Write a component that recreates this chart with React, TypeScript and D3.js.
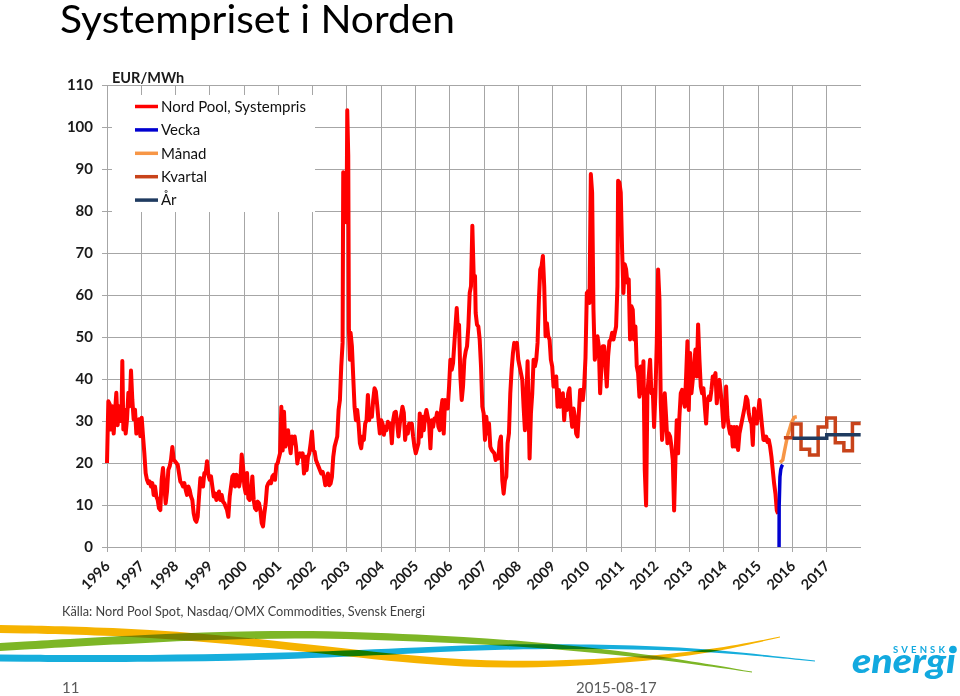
import React, { useEffect } from 'react';
import * as d3 from 'd3';

type Pt = [number, number];

// Nord Pool system price (EUR/MWh), [decimal year, value]
const spot1996_2000: Pt[] = [
  [1996.0, 20], [1996.039, 34.7], [1996.078, 34], [1996.117, 28], [1996.156, 33.5], [1996.195, 27], [1996.233, 32], [1996.272, 36.7], [1996.311, 29], [1996.35, 33.5], [1996.389, 30], [1996.428, 34], [1996.447, 44.3], [1996.477, 28], [1996.516, 32.7], [1996.545, 27], [1996.584, 30.4], [1996.623, 36.7], [1996.661, 33.5], [1996.7, 42], [1996.739, 35], [1996.778, 30.4], [1996.817, 32.7], [1996.856, 27], [1996.895, 28.8], [1996.934, 30.4], [1996.973, 26.4],
  [1997.012, 30.8], [1997.051, 26.4], [1997.089, 22.4], [1997.128, 17.6], [1997.167, 16], [1997.206, 15.2], [1997.245, 15.6], [1997.284, 14.4], [1997.323, 15.2], [1997.362, 12.4], [1997.401, 14.4], [1997.44, 12], [1997.479, 11.2], [1997.517, 9.2], [1997.556, 8.8], [1997.595, 16], [1997.634, 18.8], [1997.673, 14.4], [1997.712, 10.4], [1997.751, 13.2], [1997.79, 18.4], [1997.829, 19.2], [1997.868, 20.8], [1997.907, 23.8], [1997.946, 20.8], [1997.984, 20.4],
  [1998.023, 20], [1998.062, 19.6], [1998.101, 17.6], [1998.14, 15.6], [1998.179, 15.2], [1998.218, 14.4], [1998.257, 15.2], [1998.296, 13.6], [1998.335, 12.4], [1998.374, 14.4], [1998.412, 13.6], [1998.451, 12], [1998.49, 11.2], [1998.529, 8], [1998.568, 6.5], [1998.607, 6], [1998.646, 7.2], [1998.685, 12], [1998.724, 16.4], [1998.763, 16], [1998.802, 14.4], [1998.84, 17.6], [1998.879, 17.6], [1998.918, 20.4], [1998.957, 17.2], [1998.996, 16],
  [1999.035, 16.8], [1999.074, 14.4], [1999.113, 12], [1999.152, 12.8], [1999.191, 11.2], [1999.23, 12], [1999.268, 13.2], [1999.307, 11.2], [1999.346, 12.4], [1999.385, 10.8], [1999.424, 10.4], [1999.463, 9.6], [1999.502, 8.8], [1999.541, 7.2], [1999.58, 12], [1999.619, 14.4], [1999.658, 16.8], [1999.696, 17.2], [1999.735, 14.4], [1999.774, 17.2], [1999.813, 16.8], [1999.852, 14.4], [1999.891, 16], [1999.93, 22], [1999.969, 19.2],
  [2000.008, 14.4], [2000.047, 12.8], [2000.086, 17.6], [2000.124, 11.6], [2000.163, 11.2], [2000.202, 12.8], [2000.241, 16.8], [2000.28, 11.2], [2000.319, 9.2], [2000.358, 8.8], [2000.397, 10.8], [2000.436, 10.4], [2000.475, 8.8], [2000.514, 5.7], [2000.553, 4.9], [2000.591, 8], [2000.63, 10.4], [2000.669, 14.4], [2000.708, 15.2], [2000.747, 15.6], [2000.786, 15.2], [2000.825, 16.8], [2000.864, 17.2], [2000.903, 16], [2000.942, 19.6], [2000.981, 20],
];

const spot2001_2005: Pt[] = [
  [2001.0, 20.7], [2001.049, 22.3], [2001.087, 33.4], [2001.126, 23], [2001.165, 32.2], [2001.204, 23.9], [2001.243, 25.5], [2001.282, 27.8], [2001.32, 24.7], [2001.359, 22.3], [2001.398, 26.3], [2001.437, 24.7], [2001.476, 26.3], [2001.515, 23.9], [2001.553, 19.9], [2001.592, 21.9], [2001.631, 22.3], [2001.67, 21.5], [2001.709, 22.3], [2001.748, 17.5], [2001.786, 21.5], [2001.825, 18.3], [2001.864, 21.5], [2001.903, 22.3], [2001.942, 24.7], [2001.981, 27.5],
  [2002.019, 23], [2002.058, 22.7], [2002.097, 20.7], [2002.136, 19.9], [2002.175, 19.1], [2002.214, 18.3], [2002.252, 17.5], [2002.291, 17.9], [2002.33, 16.7], [2002.369, 14.7], [2002.408, 15.1], [2002.447, 17.5], [2002.485, 14.7], [2002.524, 15.1], [2002.563, 16.7], [2002.602, 21.5], [2002.641, 23.9], [2002.68, 25.1], [2002.718, 26.3], [2002.757, 32.6], [2002.796, 35], [2002.835, 43], [2002.874, 48.6], [2002.893, 89.2], [2002.951, 88.4], [2002.99, 77.3],
  [2003.01, 104], [2003.039, 93.2], [2003.058, 51.8], [2003.087, 44.6], [2003.107, 51], [2003.146, 47.8], [2003.184, 40.6], [2003.223, 33.4], [2003.262, 30.2], [2003.301, 32.6], [2003.34, 29.4], [2003.379, 24.7], [2003.417, 23.5], [2003.456, 26.3], [2003.495, 25.5], [2003.534, 29.4], [2003.573, 30.2], [2003.612, 36.2], [2003.65, 30.2], [2003.689, 32.6], [2003.728, 31], [2003.767, 35], [2003.806, 37.8], [2003.845, 37], [2003.883, 33.8], [2003.922, 30.2], [2003.961, 27],
  [2004.0, 30.2], [2004.039, 29.4], [2004.078, 26.7], [2004.117, 28.6], [2004.155, 27.8], [2004.194, 29.8], [2004.233, 28.6], [2004.272, 29.4], [2004.311, 24.7], [2004.35, 30.2], [2004.388, 32], [2004.427, 32.2], [2004.466, 29.4], [2004.505, 26.3], [2004.544, 29.4], [2004.583, 31.4], [2004.621, 33.4], [2004.66, 32], [2004.699, 25.5], [2004.738, 28.6], [2004.777, 27], [2004.816, 29.4], [2004.854, 28.6], [2004.893, 29.4], [2004.932, 26.3], [2004.971, 23.9],
  [2005.01, 22.3], [2005.049, 23.5], [2005.087, 24.7], [2005.126, 31.8], [2005.165, 26.3], [2005.204, 31], [2005.243, 27.8], [2005.282, 31], [2005.32, 32.6], [2005.359, 31], [2005.398, 29.4], [2005.437, 23.5], [2005.476, 30.2], [2005.515, 28.6], [2005.553, 30.6], [2005.592, 30.2], [2005.631, 32], [2005.67, 28.6], [2005.709, 27.8], [2005.748, 32.6], [2005.786, 35], [2005.825, 27], [2005.864, 35], [2005.903, 33.4], [2005.942, 33], [2005.981, 38.2],
];

const spot2006_2010: Pt[] = [
  [2006.019, 44.6], [2006.058, 42.2], [2006.097, 43.8], [2006.136, 48.6], [2006.175, 53.3], [2006.204, 56.9], [2006.233, 52.5], [2006.272, 52.9], [2006.311, 40.6], [2006.35, 35], [2006.388, 38.2], [2006.427, 44.6], [2006.466, 46.6], [2006.505, 47.8], [2006.544, 52.5], [2006.583, 60.5], [2006.621, 62.1], [2006.66, 76.5], [2006.699, 64.5], [2006.738, 64.5], [2006.757, 55.7], [2006.796, 52.9], [2006.835, 52.5], [2006.874, 49.4], [2006.913, 43], [2006.951, 33.4], [2006.99, 31.8],
  [2007.029, 25.5], [2007.068, 31], [2007.107, 27], [2007.146, 29.4], [2007.184, 23.9], [2007.223, 23.1], [2007.262, 22.7], [2007.301, 22.3], [2007.34, 20.7], [2007.379, 21.5], [2007.417, 21.1], [2007.456, 25], [2007.495, 26.3], [2007.534, 15.9], [2007.573, 12.7], [2007.612, 15.9], [2007.65, 16.7], [2007.689, 24.7], [2007.728, 27], [2007.767, 36.6], [2007.806, 42.2], [2007.845, 46.2], [2007.883, 48.6], [2007.922, 47.8], [2007.961, 48.6],
  [2008.0, 44.6], [2008.039, 43], [2008.078, 41.4], [2008.117, 39.8], [2008.155, 33.4], [2008.194, 27.8], [2008.233, 35], [2008.272, 44.2], [2008.311, 28.6], [2008.33, 21.1], [2008.369, 31.8], [2008.408, 36.6], [2008.447, 44.6], [2008.485, 43], [2008.524, 44.6], [2008.563, 48.6], [2008.602, 58.9], [2008.641, 66.1], [2008.68, 66.9], [2008.718, 69.3], [2008.757, 62.1], [2008.796, 50.2], [2008.835, 53.3], [2008.874, 50.2], [2008.913, 49.4], [2008.951, 44.6], [2008.99, 43],
  [2009.029, 38.2], [2009.068, 39.8], [2009.107, 40.6], [2009.146, 33.4], [2009.184, 37.4], [2009.223, 33.4], [2009.262, 35], [2009.301, 36.6], [2009.34, 30.2], [2009.379, 35], [2009.417, 32.6], [2009.456, 36.6], [2009.495, 37.8], [2009.534, 31.8], [2009.573, 28.6], [2009.612, 33], [2009.65, 31], [2009.689, 27], [2009.728, 26.3], [2009.767, 31.8], [2009.806, 37.4], [2009.845, 37.4], [2009.883, 35], [2009.922, 38.2], [2009.961, 45],
  [2010.0, 60.5], [2010.039, 60.9], [2010.078, 58.1], [2010.117, 88.8], [2010.155, 84.4], [2010.194, 56.5], [2010.233, 44.6], [2010.272, 47], [2010.311, 50.2], [2010.35, 47.8], [2010.388, 36.6], [2010.427, 43], [2010.466, 47.8], [2010.505, 47.8], [2010.544, 43], [2010.583, 38.2], [2010.621, 45.4], [2010.66, 49], [2010.699, 49.4], [2010.738, 51], [2010.777, 49.4], [2010.816, 51], [2010.854, 52.5], [2010.893, 62.1], [2010.913, 87.2], [2010.951, 86.8], [2010.99, 84.4],
];

const spot2011_2015: Pt[] = [
  [2011.029, 70.9], [2011.068, 60.5], [2011.107, 67.3], [2011.146, 66.1], [2011.184, 62.9], [2011.223, 63.7], [2011.262, 49.4], [2011.302, 57.3], [2011.34, 56.5], [2011.379, 49.4], [2011.418, 52.5], [2011.457, 43], [2011.496, 41.4], [2011.535, 35.8], [2011.574, 43], [2011.613, 36.6], [2011.652, 44.2], [2011.691, 18.3], [2011.73, 9.9], [2011.768, 36.6], [2011.807, 40.6], [2011.846, 44.6], [2011.885, 36.6], [2011.924, 37.4], [2011.963, 28.6],
  [2012.002, 36.6], [2012.041, 48.6], [2012.08, 66.1], [2012.119, 58.9], [2012.158, 34.2], [2012.196, 25.5], [2012.235, 29.4], [2012.274, 36.6], [2012.313, 31], [2012.352, 24.7], [2012.391, 27], [2012.43, 26.3], [2012.469, 23.9], [2012.508, 20.7], [2012.547, 8.7], [2012.586, 20.7], [2012.624, 30.2], [2012.663, 22.3], [2012.702, 31], [2012.741, 36.6], [2012.78, 37.4], [2012.819, 35], [2012.858, 33.4], [2012.897, 40.6], [2012.936, 49], [2012.975, 32.6],
  [2013.014, 46.2], [2013.053, 36.6], [2013.091, 39.8], [2013.13, 43], [2013.169, 47], [2013.208, 40.6], [2013.247, 53], [2013.286, 44.6], [2013.325, 38.2], [2013.364, 36.6], [2013.403, 37.8], [2013.442, 33.4], [2013.481, 29.4], [2013.519, 35], [2013.558, 35.8], [2013.597, 35], [2013.636, 37.4], [2013.675, 40.6], [2013.714, 39.8], [2013.753, 41.4], [2013.792, 34.2], [2013.831, 38.2], [2013.87, 39.8], [2013.909, 36.6], [2013.947, 33.4], [2013.986, 28.6],
  [2014.025, 31.8], [2014.064, 38.2], [2014.103, 31], [2014.142, 28.6], [2014.181, 27], [2014.22, 28.6], [2014.259, 23.9], [2014.298, 28.6], [2014.337, 23.9], [2014.375, 28.6], [2014.414, 23.1], [2014.453, 27], [2014.492, 28.6], [2014.531, 30.2], [2014.57, 31.8], [2014.609, 33.4], [2014.648, 35.8], [2014.687, 35], [2014.726, 31.8], [2014.765, 30.2], [2014.804, 29.4], [2014.843, 24.3], [2014.881, 33], [2014.92, 30.2], [2014.959, 29.4], [2014.998, 31.8],
  [2015.037, 35], [2015.076, 31.8], [2015.115, 28.6], [2015.154, 25.5], [2015.193, 25.5], [2015.232, 26.3], [2015.271, 25], [2015.309, 25.5], [2015.348, 23.9], [2015.387, 21.5], [2015.426, 18.3], [2015.465, 15.1], [2015.504, 12.7], [2015.543, 8.7], [2015.582, 7.9],
];

// Forward prices (Nasdaq/OMX)
const vecka: Pt[] = [[2015.61, 0], [2015.612, 9.6], [2015.635, 16.7], [2015.66, 18.5], [2015.69, 19.3], [2015.717, 19.6]];
const manad: Pt[] = [[2015.638, 20.1], [2015.717, 20.7], [2015.764, 22.7], [2015.813, 24.7], [2015.863, 26.7], [2015.91, 27.9], [2015.98, 29.8], [2016.056, 30.9], [2016.126, 31]];
const kvartal: Pt[] = [[2015.75, 26], [2016.0, 29.3], [2016.25, 23.3], [2016.5, 21.9], [2016.75, 28.6], [2017.0, 30.7], [2017.25, 24.8], [2017.5, 22.9], [2017.75, 29.4], [2017.99, 29.4]];
const ar: Pt[] = [[2016.0, 25.9], [2017.0, 26.7], [2017.99, 26.7]];

const yearTicks = d3.range(1996, 2018);
const valueTicks = d3.range(0, 111, 10);
const legendLabels = ['Nord Pool, Systempris', 'Vecka', 'Månad', 'Kvartal', 'År'];
const legendColors = ['#FF0000', '#0000D0', '#F79646', '#C8431A', '#1F3B60'];

const FONT = "Lato, 'Open Sans', sans-serif";

export default function App() {
  useEffect(() => {
    document.body.style.margin = '0';
  }, []);

  const W = 960, H = 696;
  const x = d3.scaleLinear().domain([1996, 2018]).range([107, 861]);
  const y = d3.scaleLinear().domain([0, 110]).range([547, 85]);

  const line = d3.line<Pt>().x(d => x(d[0])).y(d => y(d[1]));
  const stepLine = d3.line<Pt>().x(d => x(d[0])).y(d => y(d[1])).curve(d3.curveStepAfter);

  const spot = [...spot1996_2000, ...spot2001_2005, ...spot2006_2010, ...spot2011_2015];

  const x0 = x(1996), x1 = x(2018);
  const y0 = y(0), yTop = y(110);

  // decorative swooshes (ribbon shapes)
  const ribbon = (pts: [number, number, number][]) => {
    const area = d3.area<[number, number, number]>()
      .x(d => d[0]).y0(d => d[1] - d[2] / 2).y1(d => d[1] + d[2] / 2)
      .curve(d3.curveBasis);
    return area(pts) || '';
  };

  return (
    <svg width={W} height={H} style={{ position: 'absolute', left: 0, top: 0, background: '#fff' }} fontFamily={FONT}>
      <rect x={0} y={0} width={W} height={H} fill="#fff" />
      {/* Title */}
      <text x={60} y={33} fontSize={39} fill="#000" textLength={395} lengthAdjust="spacingAndGlyphs">Systempriset i Norden</text>

      {/* gridlines */}
      <g stroke="#A6A6A6" strokeWidth={1} shapeRendering="crispEdges">
        {valueTicks.map(v => (
          <line key={'h' + v} x1={x0 - 5} x2={x1} y1={y(v)} y2={y(v)} />
        ))}
        {yearTicks.map(yr => (
          <line key={'v' + yr} x1={x(yr)} x2={x(yr)} y1={yTop} y2={y0 + 5} />
        ))}
        <line x1={x0} x2={x0} y1={yTop} y2={y0} />
      </g>

      {/* y labels */}
      <g fontSize={15} fontWeight={700} fill="#1a1a1a" textAnchor="end">
        {valueTicks.map(v => (
          <text key={'yl' + v} x={93} y={y(v)} dy="0.36em">{v}</text>
        ))}
      </g>
      <text x={112} y={83} fontSize={14.5} fontWeight={700} fill="#1a1a1a">EUR/MWh</text>

      {/* x labels */}
      <g fontSize={14.5} fontWeight={700} fill="#1a1a1a" textAnchor="end">
        {yearTicks.map(yr => (
          <text key={'xl' + yr} transform={`translate(${x(yr) + 4},${y0 + 20}) rotate(-45)`}>{yr}</text>
        ))}
      </g>

      {/* legend */}
      <rect x={112} y={95} width={203} height={117} fill="#fff" />
      {legendLabels.map((lab, i) => (
        <g key={lab} transform={`translate(135,${106.5 + i * 23.4})`}>
          <line x1={0} x2={23} y1={0} y2={0} stroke={legendColors[i]} strokeWidth={3.5} />
          <text x={26} y={0} dy="0.35em" fontSize={15} fill="#111">{lab}</text>
        </g>
      ))}

      {/* series */}
      <path d={line(spot) || ''} fill="none" stroke="#FF0000" strokeWidth={4} strokeLinejoin="round" />
      <path d={line(vecka) || ''} fill="none" stroke={legendColors[1]} strokeWidth={3.5} strokeLinejoin="round" />
      <path d={line(manad) || ''} fill="none" stroke={legendColors[2]} strokeWidth={3.5} strokeLinejoin="round" />
      <path d={stepLine(kvartal) || ''} fill="none" stroke={legendColors[3]} strokeWidth={3.5} />
      <path d={stepLine(ar) || ''} fill="none" stroke={legendColors[4]} strokeWidth={3.5} />

      {/* source */}
      <text x={62} y={616} fontSize={14} fill="#404040" textLength={363} lengthAdjust="spacingAndGlyphs">Källa: Nord Pool Spot, Nasdaq/OMX Commodities, Svensk Energi</text>

      {/* swooshes */}
      <g>
        <path d={ribbon([[0, 629, 8], [150, 632, 8], [300, 647, 8], [420, 661, 7.5], [520, 666, 7], [640, 660, 5], [720, 650, 3], [780, 637, 0.8]])} fill="#F6B300" style={{ mixBlendMode: 'multiply' }} />
        <path d={ribbon([[0, 647, 8], [150, 638, 8], [300, 633, 7.5], [420, 638, 7], [520, 643, 6], [640, 655, 4], [700, 664, 2.5], [752, 672, 0.8]])} fill="#7DB626" style={{ mixBlendMode: 'multiply' }} />
        <path d={ribbon([[0, 658, 7], [150, 659, 7], [300, 656, 6.5], [420, 650, 6], [520, 646, 5], [640, 647, 4], [720, 651, 2.5], [815, 661, 0.8]])} fill="#16AEDC" style={{ mixBlendMode: 'multiply' }} />
      </g>

      {/* logo */}
      <text x={893} y={653} fontSize={9.5} fontWeight={700} fill="#12A9DF" textLength={52} lengthAdjust="spacing">SVENSK</text>
      <circle cx={953} cy={649.5} r={3.8} fill="#12A9DF" />
      <text x={852} y={673} fontSize={34} fontWeight={900} fontStyle="italic" fill="#12A9DF" textLength={104} lengthAdjust="spacingAndGlyphs">energi</text>

      {/* footer */}
      <text x={62} y={693} fontSize={15} fill="#595959">11</text>
      <text x={576} y={693} fontSize={15} fill="#595959">2015-08-17</text>
    </svg>
  );
}
